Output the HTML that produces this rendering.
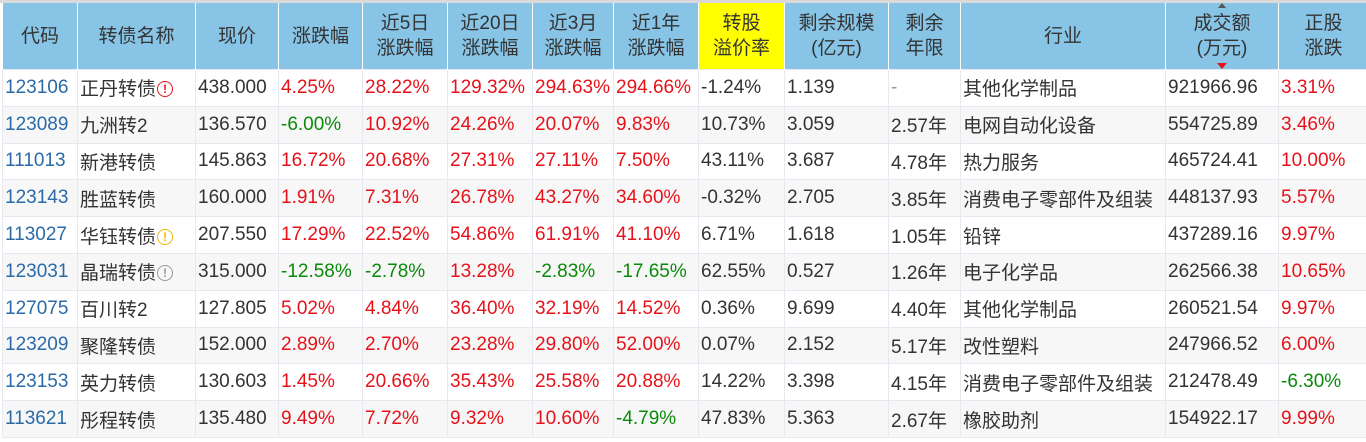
<!DOCTYPE html>
<html><head><meta charset="utf-8"><style>
body{margin:0;width:1366px;height:442px;overflow:hidden;background:#fff;font-family:"Liberation Sans","Noto Sans CJK SC",sans-serif;}
.top{position:absolute;left:0;top:0;width:1366px;height:3px;background:#d9d9d9}
table{position:absolute;left:2px;top:3px;border-collapse:collapse;table-layout:fixed;width:1366px}
th{background:#87c4e6;color:#333;font-weight:normal;font-size:19px;line-height:25px;height:66px;border-left:1px solid #fff;border-right:1px solid #fff;padding:0;text-align:center;position:relative}
td{font-size:19px;height:35.8px;padding:0 0 0 2px;color:#333;border:1px solid #e6e9f0;white-space:nowrap;overflow:hidden}
tr:nth-child(odd) td{background:#f7f7f7}
tr:nth-child(even) td{background:#fff}
td:first-child{color:#2a6aa8}
.r{color:#e6121a!important}.g{color:#0a8a0a!important}
th.y{background:#ffff00}
.ic{display:inline-block;width:14px;height:14px;border:1.5px solid;border-radius:50%;font-size:12px;line-height:14px;text-align:center;vertical-align:2px;margin-left:1px;font-weight:bold}
.up{position:absolute;left:50%;top:0;margin-left:-4px;border:4px solid transparent;border-bottom:5px solid #555;border-top:0}
.dn{position:absolute;left:50%;bottom:0;margin-left:-5px;border:5px solid transparent;border-top:6px solid #e6121a;border-bottom:0}
</style></head><body><div class="top"></div>
<table>
<colgroup><col style="width:75px"><col style="width:118px"><col style="width:83px"><col style="width:84px"><col style="width:85px"><col style="width:85px"><col style="width:81px"><col style="width:85px"><col style="width:86px"><col style="width:104px"><col style="width:72px"><col style="width:205px"><col style="width:113px"><col style="width:90px"></colgroup>
<tr><th>代码</th><th>转债名称</th><th>现价</th><th>涨跌幅</th><th>近5日<br>涨跌幅</th><th>近20日<br>涨跌幅</th><th>近3月<br>涨跌幅</th><th>近1年<br>涨跌幅</th><th class="y">转股<br>溢价率</th><th>剩余规模<br>(亿元)</th><th>剩余<br>年限</th><th>行业</th><th><span class="up"></span>成交额<br>(万元)<span class="dn"></span></th><th>正股<br>涨跌</th></tr>
<tr><td>123106</td><td>正丹转债<span class="ic" style="color:#e6121a">!</span></td><td>438.000</td><td class="r">4.25%</td><td class="r">28.22%</td><td class="r">129.32%</td><td class="r">294.63%</td><td class="r">294.66%</td><td>-1.24%</td><td>1.139</td><td style="color:#999">-</td><td>其他化学制品</td><td>921966.96</td><td class="r">3.31%</td></tr>
<tr><td>123089</td><td>九洲转2</td><td>136.570</td><td class="g">-6.00%</td><td class="r">10.92%</td><td class="r">24.26%</td><td class="r">20.07%</td><td class="r">9.83%</td><td>10.73%</td><td>3.059</td><td>2.57年</td><td>电网自动化设备</td><td>554725.89</td><td class="r">3.46%</td></tr>
<tr><td>111013</td><td>新港转债</td><td>145.863</td><td class="r">16.72%</td><td class="r">20.68%</td><td class="r">27.31%</td><td class="r">27.11%</td><td class="r">7.50%</td><td>43.11%</td><td>3.687</td><td>4.78年</td><td>热力服务</td><td>465724.41</td><td class="r">10.00%</td></tr>
<tr><td>123143</td><td>胜蓝转债</td><td>160.000</td><td class="r">1.91%</td><td class="r">7.31%</td><td class="r">26.78%</td><td class="r">43.27%</td><td class="r">34.60%</td><td>-0.32%</td><td>2.705</td><td>3.85年</td><td>消费电子零部件及组装</td><td>448137.93</td><td class="r">5.57%</td></tr>
<tr><td>113027</td><td>华钰转债<span class="ic" style="color:#f0b800">!</span></td><td>207.550</td><td class="r">17.29%</td><td class="r">22.52%</td><td class="r">54.86%</td><td class="r">61.91%</td><td class="r">41.10%</td><td>6.71%</td><td>1.618</td><td>1.05年</td><td>铅锌</td><td>437289.16</td><td class="r">9.97%</td></tr>
<tr><td>123031</td><td>晶瑞转债<span class="ic" style="color:#999">!</span></td><td>315.000</td><td class="g">-12.58%</td><td class="g">-2.78%</td><td class="r">13.28%</td><td class="g">-2.83%</td><td class="g">-17.65%</td><td>62.55%</td><td>0.527</td><td>1.26年</td><td>电子化学品</td><td>262566.38</td><td class="r">10.65%</td></tr>
<tr><td>127075</td><td>百川转2</td><td>127.805</td><td class="r">5.02%</td><td class="r">4.84%</td><td class="r">36.40%</td><td class="r">32.19%</td><td class="r">14.52%</td><td>0.36%</td><td>9.699</td><td>4.40年</td><td>其他化学制品</td><td>260521.54</td><td class="r">9.97%</td></tr>
<tr><td>123209</td><td>聚隆转债</td><td>152.000</td><td class="r">2.89%</td><td class="r">2.70%</td><td class="r">23.28%</td><td class="r">29.80%</td><td class="r">52.00%</td><td>0.07%</td><td>2.152</td><td>5.17年</td><td>改性塑料</td><td>247966.52</td><td class="r">6.00%</td></tr>
<tr><td>123153</td><td>英力转债</td><td>130.603</td><td class="r">1.45%</td><td class="r">20.66%</td><td class="r">35.43%</td><td class="r">25.58%</td><td class="r">20.88%</td><td>14.22%</td><td>3.398</td><td>4.15年</td><td>消费电子零部件及组装</td><td>212478.49</td><td class="g">-6.30%</td></tr>
<tr><td>113621</td><td>彤程转债</td><td>135.480</td><td class="r">9.49%</td><td class="r">7.72%</td><td class="r">9.32%</td><td class="r">10.60%</td><td class="g">-4.79%</td><td>47.83%</td><td>5.363</td><td>2.67年</td><td>橡胶助剂</td><td>154922.17</td><td class="r">9.99%</td></tr>
</table></body></html>
